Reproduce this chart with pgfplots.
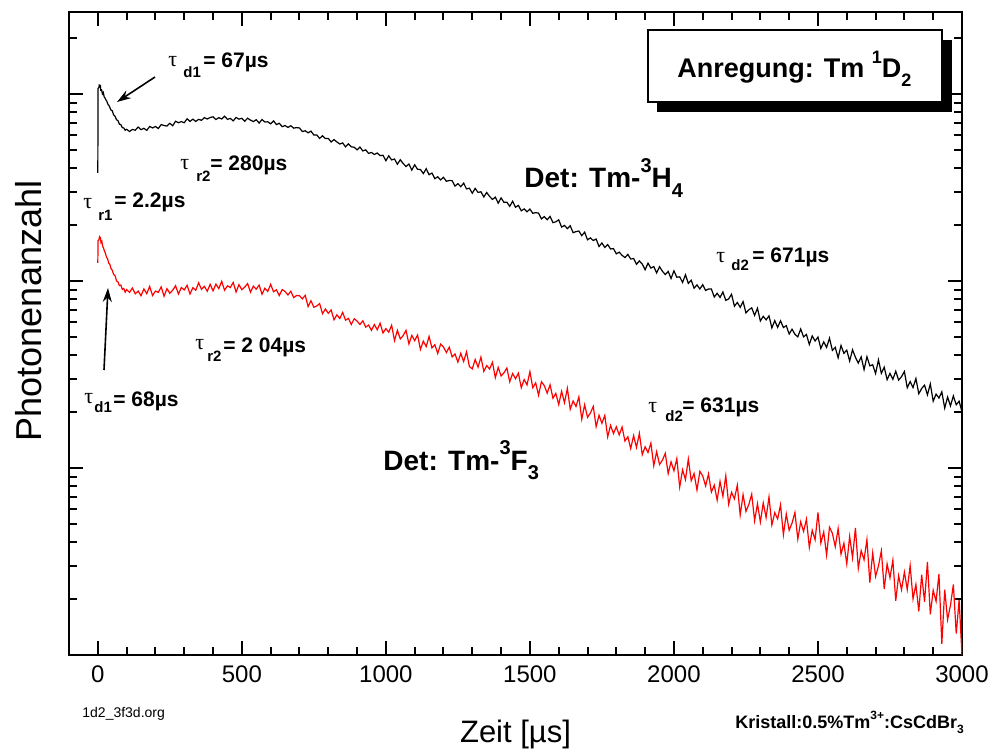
\documentclass[border=0pt]{standalone}
\usepackage{pgfplots}
\usepackage{pgfplotstable}
\pgfplotsset{compat=1.18}
\usepackage{fontspec}
\setmainfont{Liberation Sans}
\newfontfamily\tauf{Liberation Serif}
\usetikzlibrary{arrows.meta}

% y values are log10(Photonenanzahl)
\pgfplotstableread{
x y
0 2.578
1 3.030
4 3.035
5 3.048
9 3.045
10 3.020
13 3.022
16 3.000
19 3.008
22 2.985
25 2.978
28 2.968
31 2.962
35 2.945
40 2.935
45 2.915
50 2.910
55 2.888
60 2.880
65 2.862
70 2.857
75 2.838
80 2.836
85 2.820
90 2.818
95 2.806
100 2.811
110 2.799
120 2.810
130 2.806
140 2.823
150 2.809
160 2.816
170 2.805
180 2.826
190 2.818
200 2.826
210 2.815
220 2.836
230 2.831
240 2.828
250 2.843
260 2.830
270 2.854
280 2.846
290 2.852
300 2.846
310 2.867
320 2.853
330 2.865
340 2.853
350 2.864
360 2.859
370 2.873
380 2.866
390 2.874
400 2.878
410 2.863
420 2.873
430 2.866
440 2.881
450 2.864
460 2.869
470 2.856
480 2.874
490 2.865
500 2.870
510 2.854
520 2.870
530 2.860
540 2.852
550 2.862
560 2.844
570 2.863
580 2.850
590 2.851
600 2.840
610 2.856
620 2.836
630 2.843
640 2.825
650 2.831
660 2.821
670 2.830
680 2.817
690 2.820
700 2.818
710 2.799
720 2.803
730 2.792
740 2.801
750 2.780
760 2.781
770 2.762
780 2.776
790 2.761
800 2.762
810 2.743
820 2.756
830 2.743
840 2.732
850 2.738
860 2.717
870 2.733
880 2.717
890 2.715
900 2.701
910 2.716
920 2.695
930 2.701
940 2.682
950 2.687
960 2.676
970 2.684
980 2.670
990 2.672
1000 2.643
1010 2.669
1020 2.647
1030 2.652
1040 2.624
1050 2.648
1060 2.628
1070 2.612
1080 2.625
1090 2.593
1100 2.621
1110 2.597
1120 2.596
1130 2.574
1140 2.600
1150 2.568
1160 2.577
1170 2.547
1180 2.557
1190 2.540
1200 2.554
1210 2.533
1220 2.537
1230 2.536
1240 2.507
1250 2.520
1260 2.504
1270 2.523
1280 2.492
1290 2.496
1300 2.469
1310 2.495
1320 2.473
1330 2.477
1340 2.449
1350 2.473
1360 2.452
1370 2.436
1380 2.448
1390 2.416
1400 2.444
1410 2.420
1420 2.421
1430 2.399
1440 2.426
1450 2.394
1460 2.404
1470 2.375
1480 2.385
1490 2.370
1500 2.384
1510 2.362
1520 2.365
1530 2.363
1540 2.332
1550 2.344
1560 2.327
1570 2.345
1580 2.312
1590 2.316
1600 2.327
1610 2.288
1620 2.297
1630 2.280
1640 2.295
1650 2.258
1660 2.264
1670 2.267
1680 2.242
1690 2.261
1700 2.220
1710 2.230
1720 2.216
1730 2.224
1740 2.184
1750 2.203
1760 2.179
1770 2.195
1780 2.171
1790 2.173
1800 2.145
1810 2.154
1820 2.137
1830 2.125
1840 2.142
1850 2.117
1860 2.120
1870 2.089
1880 2.107
1890 2.090
1900 2.060
1910 2.095
1920 2.069
1930 2.077
1940 2.043
1950 2.076
1960 2.052
1970 2.034
1980 2.051
1990 2.013
2000 2.054
2010 2.020
2020 2.022
2030 1.992
2040 2.033
2050 1.987
2060 2.004
2070 1.961
2080 1.979
2090 1.957
2100 1.980
2110 1.949
2120 1.957
2130 1.957
2140 1.914
2150 1.934
2160 1.912
2170 1.941
2180 1.896
2190 1.904
2200 1.929
2210 1.865
2220 1.885
2230 1.859
2240 1.890
2250 1.829
2260 1.846
2270 1.856
2280 1.816
2290 1.854
2300 1.786
2310 1.811
2320 1.792
2330 1.813
2340 1.749
2350 1.788
2360 1.752
2370 1.787
2380 1.751
2390 1.761
2400 1.716
2410 1.742
2420 1.715
2430 1.701
2440 1.743
2450 1.701
2460 1.714
2470 1.660
2480 1.706
2490 1.679
2500 1.700
2510 1.639
2520 1.674
2530 1.645
2540 1.694
2550 1.629
2560 1.645
2570 1.589
2580 1.655
2590 1.613
2600 1.630
2610 1.572
2620 1.632
2630 1.592
2640 1.561
2650 1.594
2660 1.526
2670 1.595
2680 1.546
2690 1.552
2700 1.505
2710 1.578
2720 1.506
2730 1.539
2740 1.472
2750 1.506
2760 1.474
2770 1.517
2780 1.470
2790 1.488
2800 1.516
2810 1.429
2820 1.462
2830 1.430
2840 1.478
2850 1.397
2860 1.425
2870 1.443
2880 1.391
2890 1.449
2900 1.357
2910 1.395
2920 1.374
2930 1.407
2940 1.320
2950 1.379
2960 1.332
2970 1.385
2980 1.338
2990 1.357
3000 1.300
}\tmH

\pgfplotstableread{
x y
0 2.096
1 2.215
4 2.220
6 2.237
9 2.232
11 2.205
14 2.212
17 2.185
20 2.175
23 2.160
26 2.150
30 2.128
34 2.118
38 2.095
42 2.088
46 2.065
50 2.058
55 2.035
60 2.028
65 2.000
70 1.995
75 1.975
80 1.978
85 1.955
90 1.960
95 1.940
100 1.954
110 1.939
120 1.962
130 1.931
140 1.946
150 1.921
160 1.957
170 1.932
180 1.971
190 1.922
200 1.946
210 1.939
220 1.968
230 1.918
240 1.959
250 1.934
260 1.951
270 1.974
280 1.930
290 1.965
300 1.952
310 1.977
320 1.930
330 1.964
340 1.950
350 1.990
360 1.955
370 1.971
380 1.945
390 1.982
400 1.947
410 1.983
420 1.959
430 1.998
440 1.950
450 1.974
460 1.965
470 1.992
480 1.941
490 1.980
500 1.953
510 1.967
520 1.986
530 1.940
540 1.972
550 1.956
560 1.978
570 1.929
580 1.961
590 1.944
600 1.982
610 1.942
620 1.953
630 1.922
640 1.954
650 1.944
660 1.925
670 1.945
680 1.911
690 1.922
700 1.921
710 1.904
720 1.923
730 1.863
740 1.894
750 1.859
760 1.866
770 1.879
780 1.825
790 1.850
800 1.827
810 1.845
820 1.792
830 1.819
840 1.799
850 1.832
860 1.790
870 1.800
880 1.767
890 1.798
900 1.786
910 1.767
920 1.787
930 1.753
940 1.764
950 1.736
960 1.767
970 1.739
980 1.774
990 1.722
1000 1.745
1010 1.726
1020 1.763
1030 1.681
1040 1.736
1050 1.690
1060 1.708
1070 1.736
1080 1.663
1090 1.709
1100 1.681
1110 1.711
1120 1.634
1130 1.678
1140 1.649
1150 1.703
1160 1.642
1170 1.659
1180 1.612
1190 1.662
1200 1.647
1210 1.617
1220 1.646
1230 1.594
1240 1.610
1250 1.566
1260 1.613
1270 1.569
1280 1.621
1290 1.542
1300 1.530
1310 1.580
1320 1.539
1330 1.593
1340 1.516
1350 1.548
1360 1.529
1370 1.565
1380 1.483
1390 1.538
1400 1.492
1410 1.509
1420 1.535
1430 1.461
1440 1.505
1450 1.477
1460 1.507
1470 1.429
1480 1.473
1490 1.444
1500 1.515
1510 1.429
1520 1.455
1530 1.389
1540 1.461
1550 1.440
1560 1.400
1570 1.445
1580 1.373
1590 1.399
1600 1.339
1610 1.410
1620 1.349
1630 1.426
1640 1.314
1650 1.358
1660 1.329
1670 1.380
1680 1.261
1690 1.338
1700 1.271
1710 1.294
1720 1.329
1730 1.221
1740 1.282
1750 1.239
1760 1.281
1770 1.166
1780 1.228
1790 1.184
1800 1.220
1810 1.177
1820 1.219
1830 1.144
1840 1.167
1850 1.104
1860 1.173
1870 1.110
1880 1.185
1890 1.071
1900 1.113
1910 1.083
1920 1.133
1930 1.012
1940 1.087
1950 1.019
1960 1.042
1970 1.078
1980 0.970
1990 1.033
2000 0.985
2010 1.050
2020 0.898
2030 0.990
2040 0.938
2050 1.048
2060 0.932
2070 0.970
2080 0.882
2090 0.982
2100 0.957
2110 0.904
2120 0.968
2130 0.871
2140 0.908
2150 0.828
2160 0.928
2170 0.848
2180 0.958
2190 0.806
2200 0.870
2210 0.835
2220 0.908
2230 0.748
2240 0.857
2250 0.768
2260 0.805
2270 0.860
2280 0.718
2290 0.809
2300 0.711
2310 0.813
2320 0.735
2330 0.845
2340 0.695
2350 0.761
2360 0.728
2370 0.803
2380 0.643
2390 0.754
2400 0.667
2410 0.705
2420 0.762
2430 0.620
2440 0.712
2450 0.661
2460 0.726
2470 0.575
2480 0.667
2490 0.616
2500 0.762
2510 0.599
2520 0.658
2530 0.534
2540 0.683
2550 0.651
2560 0.579
2570 0.676
2580 0.539
2590 0.598
2600 0.487
2610 0.634
2620 0.520
2630 0.680
2640 0.463
2650 0.558
2660 0.509
2670 0.617
2680 0.387
2690 0.546
2700 0.420
2710 0.476
2720 0.557
2730 0.353
2740 0.487
2750 0.413
2760 0.507
2770 0.290
2780 0.424
2790 0.349
2800 0.443
2810 0.350
2820 0.478
2830 0.300
2840 0.377
2850 0.233
2860 0.429
2870 0.285
2880 0.498
2890 0.218
2900 0.346
2910 0.287
2920 0.433
2930 0.060
2940 0.349
2950 0.189
2960 0.266
2970 0.377
2980 0.114
2990 0.294
3000 0.000
}\tmF

\tikzset{
  tau/.style={anchor=base west, inner sep=0pt, font=\tauf\fontsize{11}{12}\selectfont},
  sub/.style={anchor=base west, inner sep=0pt, font=\bfseries\fontsize{7.5}{8}\selectfont},
  val/.style={anchor=base west, inner sep=0pt, font=\bfseries\fontsize{10.5}{12}\selectfont},
  det/.style={anchor=base west, inner sep=0pt, font=\bfseries\fontsize{14}{16}\selectfont},
}

\begin{document}
\begin{tikzpicture}
\useasboundingbox (0,0) rectangle (495.5pt,375.5pt);
\begin{axis}[
  at={(34.5pt,48pt)}, anchor=south west,
  scale only axis, width=446.5pt, height=321.5pt,
  xmin=-100, xmax=3000, ymin=0, ymax=3.438,
  xtick={0,500,...,3000}, minor x tick num=4,
  ytick={0,1,2,3}, yticklabels={},
  minor ytick={0.301,0.477,0.602,0.699,0.778,0.845,0.903,0.954,
    1.301,1.477,1.602,1.699,1.778,1.845,1.903,1.954,
    2.301,2.477,2.602,2.699,2.778,2.845,2.903,2.954,3.301},
  tick align=inside,
  major tick length=7pt, minor tick length=3.8pt,
  every tick/.style={black, line width=1pt},
  axis line style={line width=1.3pt},
  /pgf/number format/1000 sep={},
  /pgf/number format/assume math mode=true,
  tick label style={font=\fontsize{12}{14}\selectfont},
  xticklabel style={yshift=-2pt},
  xlabel={Zeit [µs]},
  ylabel={Photonenanzahl},
  xlabel style={at={(axis description cs:0.5,-0.1353)}, anchor=base,
    font=\fontsize{15.5}{18}\selectfont},
  ylabel style={at={(axis description cs:-0.045,0.535)}, anchor=center,
    font=\fontsize{18}{20}\selectfont},
]
\addplot[black, line width=0.6pt] table[x=x, y=y] {\tmH};
\addplot[red, line width=0.6pt] table[x=x, y=y] {\tmF};
\end{axis}

\begin{scope}[x=0.5pt, y=-0.5pt, shift={(0pt,375.5pt)}]
  % box with shadow
  \fill[black] (657,40) rectangle (952,112);
  \draw[fill=white, line width=1pt] (648,30) rectangle (942,102);
  \node[anchor=base west, inner sep=0pt, font=\bfseries\fontsize{13.5}{15}\selectfont]
    at (677,78) {Anregung: Tm \raisebox{0.55em}{\fontsize{9}{9}\selectfont 1}D\raisebox{-0.3em}{\fontsize{9}{9}\selectfont 2}};

  % black trace annotations
  \node[tau] at (168,67) {τ};  \node[sub] at (183,78) {d1};  \node[val] at (203,68) {= 67µs};
  \node[tau] at (180,170) {τ}; \node[sub] at (196,182) {r2}; \node[val] at (210,171) {= 280µs};
  \node[tau] at (83,209) {τ};  \node[sub] at (98,221) {r1};  \node[val] at (114,208) {= 2.2µs};
  \node[tau] at (716,263) {τ}; \node[sub] at (731,271) {d2}; \node[val] at (752,263) {= 671µs};
  \draw[line width=0.8pt, -{Stealth[length=7pt,width=4.5pt]}] (155,77) -- (117,102);

  % red trace annotations
  \node[tau] at (195,350) {τ}; \node[sub] at (207,362) {r2}; \node[val] at (223,352) {= 2 04µs};
  \node[tau] at (84,403) {τ};  \node[sub] at (94,413) {d1};  \node[val] at (113,407) {= 68µs};
  \node[tau] at (648,413) {τ}; \node[sub] at (665,422) {d2}; \node[val] at (682,413) {= 631µs};
  \draw[line width=0.8pt, -{Stealth[length=7pt,width=4.5pt]}] (104,370) -- (108,288);

  \node[det] at (524,188) {Det: Tm-\raisebox{0.55em}{\fontsize{10}{10}\selectfont 3}H\raisebox{-0.35em}{\fontsize{10}{10}\selectfont 4}};
  \node[det] at (383,470) {Det: Tm-\raisebox{0.55em}{\fontsize{10}{10}\selectfont 3}F\raisebox{-0.35em}{\fontsize{10}{10}\selectfont 3}};

  \node[anchor=base west, inner sep=0pt, font=\fontsize{7}{8}\selectfont] at (82,717) {1d2\_3f3d.org};
  \node[anchor=base west, inner sep=0pt, font=\bfseries\fontsize{9}{10}\selectfont]
    at (735,728) {Kristall:0.5\%Tm\raisebox{0.5em}{\fontsize{6}{6}\selectfont 3+}:CsCdBr\raisebox{-0.3em}{\fontsize{6}{6}\selectfont 3}};
\end{scope}
\end{tikzpicture}
\end{document}
